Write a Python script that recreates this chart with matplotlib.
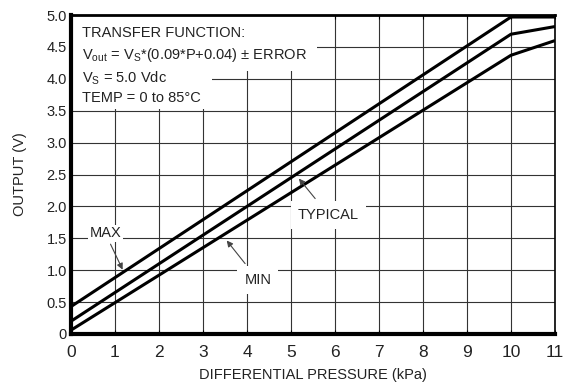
import matplotlib
matplotlib.use('Agg')
import matplotlib.pyplot as plt
from matplotlib.patches import Rectangle

plt.rcParams['font.family'] = ['Liberation Sans', 'DejaVu Sans']
plt.rcParams['mathtext.fontset'] = 'custom'
plt.rcParams['mathtext.rm'] = 'Liberation Sans'
plt.rcParams['mathtext.it'] = 'Liberation Sans'

# pressure (kPa) and output (V)
pressure = [0, 10, 11]
v_max = [0.43, 4.97, 4.97]
v_typ = [0.20, 4.70, 4.82]
v_min = [0.06, 4.37, 4.60]

x_ticks = list(range(0, 12))
y_ticks = [0, 0.5, 1.0, 1.5, 2.0, 2.5, 3.0, 3.5, 4.0, 4.5, 5.0]
y_labels = ['0', '0.5', '1.0', '1.5', '2.0', '2.5', '3.0', '3.5', '4.0', '4.5', '5.0']

txt = '#222222'
fs = 10.5

fig = plt.figure(figsize=(5.68, 3.87), dpi=100)
ax = fig.add_axes([0.125, 0.137, 0.852, 0.824])

ax.set_xlim(0, 11)
ax.set_ylim(0, 5)
ax.set_xticks(x_ticks)
ax.set_yticks(y_ticks)
ax.set_yticklabels(y_labels)
ax.grid(True, color='#333333', linewidth=0.8, zorder=1)
ax.tick_params(axis='both', labelsize=fs, labelcolor=txt, direction='in',
               length=3, top=True, left=False, right=False, pad=3)
ax.tick_params(axis='x', pad=8)
for lab in ax.get_xticklabels():
    lab.set_fontfamily(['Liberation Sans Narrow', 'Liberation Sans'])
    lab.set_fontsize(12.5)

for side, lw in [('left', 3), ('bottom', 3), ('top', 2), ('right', 1.2)]:
    ax.spines[side].set_linewidth(lw)
    ax.spines[side].set_color('black')

# white area behind the transfer function text
ax.add_patch(Rectangle((0, 3.52), 3.2, 1.48, facecolor='white', edgecolor='none', zorder=2))
ax.add_patch(Rectangle((0, 4.13), 5.6, 0.87, facecolor='white', edgecolor='none', zorder=2))

ax.plot(pressure, v_max, color='black', linewidth=2.2, zorder=4, solid_capstyle='butt')
ax.plot(pressure, v_typ, color='black', linewidth=2.2, zorder=4, solid_capstyle='butt')
ax.plot(pressure, v_min, color='black', linewidth=2.2, zorder=4, solid_capstyle='butt')

ax.text(0.25, 4.72, 'TRANSFER FUNCTION:', fontsize=fs, color=txt, va='center', zorder=5)
ax.text(0.25, 4.37, r'V$_{\mathrm{out}}$ = V$_{\mathrm{S}}$*(0.09*P+0.04) $\pm$ ERROR',
        fontsize=fs, color=txt, va='center', zorder=5)
ax.text(0.25, 4.01, r'V$_{\mathrm{S}}$ = 5.0 Vdc', fontsize=fs, color=txt, va='center', zorder=5)
ax.text(0.25, 3.70, 'TEMP = 0 to 85°C', fontsize=fs, color=txt, va='center', zorder=5)

arrow = dict(arrowstyle='-|>', color='#444444', linewidth=0.8, mutation_scale=9)
box = dict(facecolor='white', edgecolor='none', pad=5)

ax.annotate('MAX', xy=(1.2, 0.97), xytext=(0.78, 1.58), fontsize=fs, color=txt,
            ha='center', va='center', arrowprops=arrow, bbox=dict(facecolor='white', edgecolor='none', pad=1),
            zorder=5)
ax.annotate('TYPICAL', xy=(5.14, 2.47), xytext=(5.85, 1.87), fontsize=fs, color=txt,
            ha='center', va='center', arrowprops=arrow, bbox=box, zorder=5)
ax.annotate('MIN', xy=(3.5, 1.5), xytext=(4.25, 0.85), fontsize=fs, color=txt,
            ha='center', va='center', arrowprops=arrow, bbox=box, zorder=5)

ax.set_xlabel('DIFFERENTIAL PRESSURE (kPa)', fontsize=fs, color=txt, labelpad=6)
ax.set_ylabel('OUTPUT (V)', fontsize=fs, color=txt, labelpad=14)

fig.savefig('out.png', dpi=100)
